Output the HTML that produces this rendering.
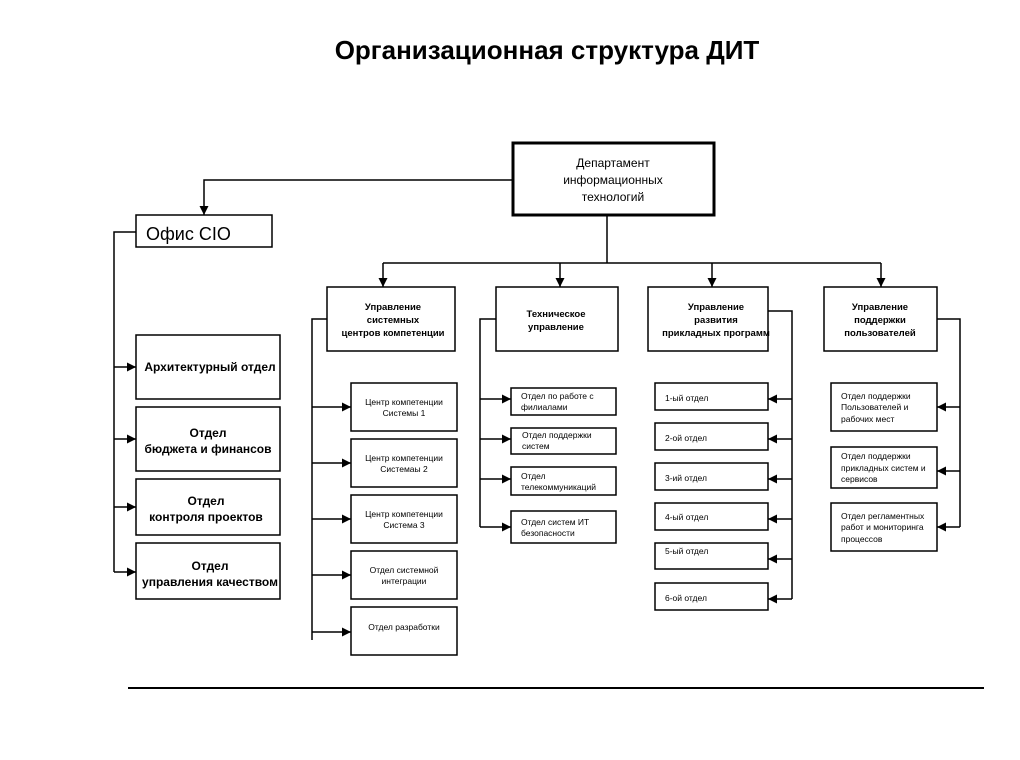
<!DOCTYPE html>
<html><head><meta charset="utf-8"><style>
body{margin:0;background:#fff}
svg text{font-family:"Liberation Sans",sans-serif;fill:#000}
</style></head><body>
<svg width="1020" height="755" xmlns="http://www.w3.org/2000/svg">
<defs><marker id="a" viewBox="0 0 10 10" refX="10" refY="5" markerWidth="9" markerHeight="9" orient="auto" markerUnits="userSpaceOnUse"><path d="M0,0L10,5L0,10z"/></marker></defs>
<text x="547" y="59" font-size="26" font-weight="bold" text-anchor="middle">Организационная структура ДИТ</text>
<g fill="none" stroke="#000" stroke-width="1.5">
<rect x="513" y="143" width="201" height="72" stroke-width="3"/>
<rect x="136" y="215" width="136" height="32"/>
<rect x="136" y="335" width="144" height="64"/>
<rect x="136" y="407" width="144" height="64"/>
<rect x="136" y="479" width="144" height="56"/>
<rect x="136" y="543" width="144" height="56"/>
<rect x="327" y="287" width="128" height="64"/>
<rect x="496" y="287" width="122" height="64"/>
<rect x="648" y="287" width="120" height="64"/>
<rect x="824" y="287" width="113" height="64"/>
<rect x="351" y="383" width="106" height="48"/>
<rect x="351" y="439" width="106" height="48"/>
<rect x="351" y="495" width="106" height="48"/>
<rect x="351" y="551" width="106" height="48"/>
<rect x="351" y="607" width="106" height="48"/>
<rect x="511" y="388" width="105" height="27"/>
<rect x="511" y="428" width="105" height="26"/>
<rect x="511" y="467" width="105" height="28"/>
<rect x="511" y="511" width="105" height="32"/>
<rect x="655" y="383" width="113" height="27"/>
<rect x="655" y="423" width="113" height="27"/>
<rect x="655" y="463" width="113" height="27"/>
<rect x="655" y="503" width="113" height="27"/>
<rect x="655" y="543" width="113" height="26"/>
<rect x="655" y="583" width="113" height="27"/>
<rect x="831" y="383" width="106" height="48"/>
<rect x="831" y="447" width="106" height="41"/>
<rect x="831" y="503" width="106" height="48"/>
<path d="M513,180H204V215" marker-end="url(#a)"/>
<path d="M136,232H114V572"/>
<path d="M114,367H136" marker-end="url(#a)"/><path d="M114,439H136" marker-end="url(#a)"/><path d="M114,507H136" marker-end="url(#a)"/><path d="M114,572H136" marker-end="url(#a)"/>
<path d="M607,215V263M383,263H881"/>
<path d="M383,263V287" marker-end="url(#a)"/><path d="M560,263V287" marker-end="url(#a)"/><path d="M712,263V287" marker-end="url(#a)"/><path d="M881,263V287" marker-end="url(#a)"/>
<path d="M327,319H312V640"/>
<path d="M312,407H351" marker-end="url(#a)"/><path d="M312,463H351" marker-end="url(#a)"/><path d="M312,519H351" marker-end="url(#a)"/><path d="M312,575H351" marker-end="url(#a)"/><path d="M312,632H351" marker-end="url(#a)"/>
<path d="M496,319H480V527"/>
<path d="M480,399H511" marker-end="url(#a)"/><path d="M480,439H511" marker-end="url(#a)"/><path d="M480,479H511" marker-end="url(#a)"/><path d="M480,527H511" marker-end="url(#a)"/>
<path d="M768,311H792V599"/>
<path d="M792,399H768" marker-end="url(#a)"/><path d="M792,439H768" marker-end="url(#a)"/><path d="M792,479H768" marker-end="url(#a)"/><path d="M792,519H768" marker-end="url(#a)"/><path d="M792,559H768" marker-end="url(#a)"/><path d="M792,599H768" marker-end="url(#a)"/>
<path d="M937,319H960V527"/>
<path d="M960,407H937" marker-end="url(#a)"/><path d="M960,471H937" marker-end="url(#a)"/><path d="M960,527H937" marker-end="url(#a)"/>
<path d="M128,688H984" stroke-width="2"/>
</g>
<g font-size="12" text-anchor="middle">
<text x="613" y="167">Департамент</text><text x="613" y="184">информационных</text><text x="613" y="201">технологий</text>
</g>
<text x="146" y="240" font-size="18">Офис CIO</text>
<g font-size="12" font-weight="bold" text-anchor="middle">
<text x="210" y="371">Архитектурный отдел</text>
<text x="208" y="437">Отдел</text><text x="208" y="453">бюджета и финансов</text>
<text x="206" y="505">Отдел</text><text x="206" y="521">контроля проектов</text>
<text x="210" y="570">Отдел</text><text x="210" y="586">управления качеством</text>
</g>
<g font-size="9.5" font-weight="bold" text-anchor="middle">
<text x="393" y="310">Управление</text><text x="393" y="323">системных</text><text x="393" y="336">центров компетенции</text>
<text x="556" y="317">Техническое</text><text x="556" y="330">управление</text>
<text x="716" y="310">Управление</text><text x="716" y="323">развития</text><text x="716" y="336">прикладных программ</text>
<text x="880" y="310">Управление</text><text x="880" y="323">поддержки</text><text x="880" y="336">пользователей</text>
</g>
<g font-size="8.5" text-anchor="middle">
<text x="404" y="405">Центр компетенции</text><text x="404" y="416">Системы 1</text>
<text x="404" y="461">Центр компетенции</text><text x="404" y="472">Системаы 2</text>
<text x="404" y="517">Центр компетенции</text><text x="404" y="528">Система 3</text>
<text x="404" y="573">Отдел системной</text><text x="404" y="584">интеграции</text>
<text x="404" y="630">Отдел разработки</text>
</g>
<g font-size="8.5">
<text x="521" y="399">Отдел по работе с</text><text x="521" y="410">филиалами</text>
<text x="522" y="438">Отдел поддержки</text><text x="522" y="449">систем</text>
<text x="521" y="479">Отдел</text><text x="521" y="490">телекоммуникаций</text>
<text x="521" y="525">Отдел систем ИТ</text><text x="521" y="536">безопасности</text>
<text x="665" y="401">1-ый отдел</text>
<text x="665" y="441">2-ой отдел</text>
<text x="665" y="481">3-ий отдел</text>
<text x="665" y="520">4-ый отдел</text>
<text x="665" y="554">5-ый отдел</text>
<text x="665" y="601">6-ой отдел</text>
<text x="841" y="399">Отдел поддержки</text><text x="841" y="410">Пользователей и</text><text x="841" y="422">рабочих мест</text>
<text x="841" y="459">Отдел поддержки</text><text x="841" y="471">прикладных систем и</text><text x="841" y="482">сервисов</text>
<text x="841" y="519">Отдел регламентных</text><text x="841" y="530">работ и мониторинга</text><text x="841" y="542">процессов</text>
</g>
</svg>
</body></html>
